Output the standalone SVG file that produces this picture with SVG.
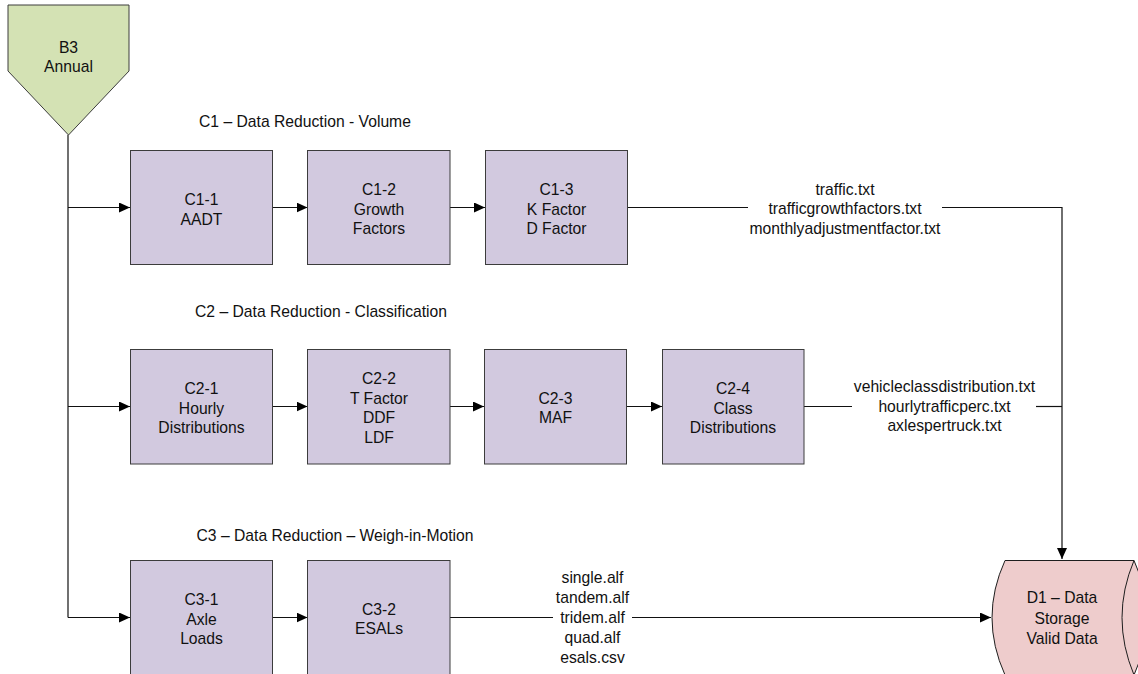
<svg xmlns="http://www.w3.org/2000/svg" width="1138" height="674" viewBox="0 0 1138 674">
<defs>
<style>
.box{fill:#D2C9DF;stroke:#3C3C3C;stroke-width:1}
.t{font-family:"Liberation Sans",Arial,sans-serif;font-size:15.7px;fill:#111;text-anchor:middle}
.lbl{font-family:"Liberation Sans",Arial,sans-serif;font-size:15.7px;fill:#111}
.ln{fill:none;stroke:#111;stroke-width:1.2}
</style>
<marker id="arr" markerWidth="12" markerHeight="10" refX="11" refY="5" orient="auto" markerUnits="userSpaceOnUse">
<path d="M0,0 L11,5 L0,10 Z" fill="#000"/>
</marker>
</defs>
<rect width="1138" height="674" fill="#fff"/>

<g id="connectors">
<path class="ln" d="M68,135 V617.5"/>
<path class="ln" d="M68,207.5 H130" marker-end="url(#arr)"/>
<path class="ln" d="M68,406.5 H130" marker-end="url(#arr)"/>
<path class="ln" d="M68,617.5 H130" marker-end="url(#arr)"/>
<path class="ln" d="M273,207.5 H307.5" marker-end="url(#arr)"/>
<path class="ln" d="M450,207.5 H485" marker-end="url(#arr)"/>
<path class="ln" d="M273,406.5 H307.5" marker-end="url(#arr)"/>
<path class="ln" d="M450,406.5 H484" marker-end="url(#arr)"/>
<path class="ln" d="M627,406.5 H662" marker-end="url(#arr)"/>
<path class="ln" d="M273,617.5 H307.5" marker-end="url(#arr)"/>
<path class="ln" d="M628,207.5 H748"/>
<path class="ln" d="M942,207.5 H1062 V559" marker-end="url(#arr)"/>
<path class="ln" d="M804,406.5 H852"/>
<path class="ln" d="M1036,406.5 H1062"/>
<path class="ln" d="M450,617.5 H553"/>
<path class="ln" d="M632,617.5 H991" marker-end="url(#arr)"/>
<text class="t" x="845" y="194.5">traffic.txt</text>
<text class="t" x="845" y="214">trafficgrowthfactors.txt</text>
<text class="t" x="845" y="233.5">monthlyadjustmentfactor.txt</text>
<text class="t" x="944.5" y="392">vehicleclassdistribution.txt</text>
<text class="t" x="944.5" y="411.5">hourlytrafficperc.txt</text>
<text class="t" x="944.5" y="431">axlespertruck.txt</text>
<text class="t" x="592.5" y="582.5">single.alf</text>
<text class="t" x="592.5" y="602.5">tandem.alf</text>
<text class="t" x="592.5" y="622.5">tridem.alf</text>
<text class="t" x="592.5" y="642.5">quad.alf</text>
<text class="t" x="592.5" y="662.5">esals.csv</text>
</g>

<g id="labels">
<text class="lbl" x="199" y="127">C1 – Data Reduction - Volume</text>
<text class="lbl" x="195" y="317">C2 – Data Reduction - Classification</text>
<text class="lbl" x="196.5" y="540.5">C3 – Data Reduction – Weigh-in-Motion</text>
</g>

<g id="B3">
<path d="M8,5 H129 V71 L68.5,135 L8,71 Z" fill="#D4E2B4" stroke="#3C3C3C" stroke-width="1"/>
<text class="t" x="68.5" y="53">B3</text>
<text class="t" x="68.5" y="72">Annual</text>
</g>

<g id="C1-1">
<rect class="box" x="130.5" y="150.5" width="142" height="114"/>
<text class="t" x="201.5" y="204.5">C1-1</text>
<text class="t" x="201.5" y="224.5">AADT</text>
</g>
<g id="C1-2">
<rect class="box" x="307.5" y="150.5" width="142.5" height="114"/>
<text class="t" x="379" y="194.7">C1-2</text>
<text class="t" x="379" y="214.5">Growth</text>
<text class="t" x="379" y="234.3">Factors</text>
</g>
<g id="C1-3">
<rect class="box" x="485.5" y="150.5" width="142" height="114"/>
<text class="t" x="556.5" y="194.7">C1-3</text>
<text class="t" x="556.5" y="214.5">K Factor</text>
<text class="t" x="556.5" y="234.3">D Factor</text>
</g>

<g id="C2-1">
<rect class="box" x="130.5" y="349.5" width="142" height="114.5"/>
<text class="t" x="201.5" y="393.7">C2-1</text>
<text class="t" x="201.5" y="413.5">Hourly</text>
<text class="t" x="201.5" y="433.3">Distributions</text>
</g>
<g id="C2-2">
<rect class="box" x="307.5" y="349.5" width="142.5" height="114.5"/>
<text class="t" x="379" y="383.8">C2-2</text>
<text class="t" x="379" y="403.6">T Factor</text>
<text class="t" x="379" y="423.4">DDF</text>
<text class="t" x="379" y="443.2">LDF</text>
</g>
<g id="C2-3">
<rect class="box" x="484.5" y="349.5" width="142" height="114.5"/>
<text class="t" x="555.5" y="403.6">C2-3</text>
<text class="t" x="555.5" y="423.4">MAF</text>
</g>
<g id="C2-4">
<rect class="box" x="662.5" y="349.5" width="141.5" height="114.5"/>
<text class="t" x="733" y="393.7">C2-4</text>
<text class="t" x="733" y="413.5">Class</text>
<text class="t" x="733" y="433.3">Distributions</text>
</g>

<g id="C3-1">
<rect class="box" x="130.5" y="560.5" width="142" height="115"/>
<text class="t" x="201.5" y="604.7">C3-1</text>
<text class="t" x="201.5" y="624.5">Axle</text>
<text class="t" x="201.5" y="644.3">Loads</text>
</g>
<g id="C3-2">
<rect class="box" x="307.5" y="560.5" width="142.5" height="115"/>
<text class="t" x="379" y="614.6">C3-2</text>
<text class="t" x="379" y="634.4">ESALs</text>
</g>

<g id="D1">
<path d="M1005,560.5 H1134 Q1160,617.5 1134,675 H1005 Q979,617.5 1005,560.5 Z" fill="#EECCCC" stroke="#1E1E1E" stroke-width="1"/>
<path d="M1134,560.5 Q1110,617.5 1134,675" fill="none" stroke="#1E1E1E" stroke-width="1"/>
<text class="t" x="1062" y="603">D1 – Data</text>
<text class="t" x="1062" y="623.5">Storage</text>
<text class="t" x="1062" y="644">Valid Data</text>
</g>
</svg>
